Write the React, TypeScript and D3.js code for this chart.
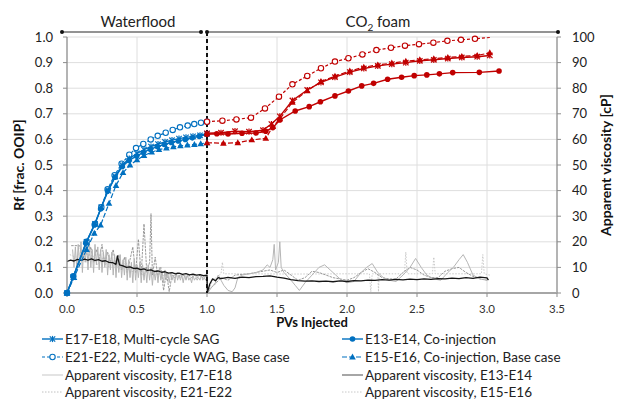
import React from 'react';
import * as d3 from 'd3';

const W = 617, H = 402;
const BLUE = '#0070C0';
const RED = '#C00000';
const FONT = 'Lato, "Open Sans", sans-serif';

const xTicks = [0, 0.5, 1.0, 1.5, 2.0, 2.5, 3.0, 3.5];
const yTicks = [0, 0.1, 0.2, 0.3, 0.4, 0.5, 0.6, 0.7, 0.8, 0.9, 1.0];
const yRTicks = [0, 10, 20, 30, 40, 50, 60, 70, 80, 90, 100];

// ---- Recovery factor, waterflood (blue) ----
const rfE17WX = [0, 0.045, 0.14, 0.2, 0.245, 0.295, 0.345, 0.395, 0.445, 0.5, 0.55, 0.6, 0.65, 0.7, 0.75, 0.8, 0.85, 0.9, 0.95, 1.0];
const rfE17WY = [0, 0.062, 0.2, 0.27, 0.335, 0.4, 0.455, 0.5, 0.525, 0.545, 0.56, 0.572, 0.582, 0.59, 0.597, 0.603, 0.608, 0.612, 0.616, 0.622];
const rfE13WX = [0, 0.045, 0.134, 0.195, 0.24, 0.29, 0.343, 0.395, 0.443, 0.497, 0.545, 0.595, 0.645, 0.695, 0.745, 0.795, 0.845, 0.895, 0.945, 1.0];
const rfE13WY = [0, 0.064, 0.194, 0.266, 0.328, 0.398, 0.452, 0.494, 0.518, 0.535, 0.549, 0.562, 0.572, 0.58, 0.588, 0.594, 0.6, 0.606, 0.612, 0.62];
const rfE21WX = [0, 0.045, 0.14, 0.2, 0.245, 0.29, 0.34, 0.39, 0.445, 0.493, 0.545, 0.598, 0.648, 0.705, 0.755, 0.807, 0.862, 0.909, 0.957, 1.0];
const rfE21WY = [0, 0.065, 0.2, 0.27, 0.335, 0.405, 0.46, 0.505, 0.54, 0.566, 0.582, 0.6, 0.614, 0.626, 0.637, 0.647, 0.654, 0.66, 0.665, 0.669];
const rfE15WX = [0, 0.05, 0.14, 0.195, 0.24, 0.3, 0.35, 0.4, 0.45, 0.5, 0.55, 0.605, 0.657, 0.71, 0.76, 0.81, 0.86, 0.91, 0.955, 1.0];
const rfE15WY = [0, 0.06, 0.17, 0.233, 0.265, 0.35, 0.42, 0.47, 0.5, 0.52, 0.537, 0.55, 0.56, 0.566, 0.571, 0.575, 0.578, 0.58, 0.583, 0.587];

// ---- Recovery factor, CO2 foam (red) ----
const rfE17CX = [1.0, 1.1, 1.2, 1.3, 1.4, 1.46, 1.52, 1.61, 1.716, 1.814, 1.914, 2.02, 2.12, 2.22, 2.32, 2.42, 2.52, 2.62, 2.72, 2.82, 2.93, 3.02];
const rfE17CY = [0.624, 0.626, 0.632, 0.63, 0.636, 0.66, 0.69, 0.752, 0.793, 0.823, 0.843, 0.863, 0.877, 0.887, 0.894, 0.9, 0.907, 0.911, 0.916, 0.92, 0.923, 0.928];
const rfE13CX = [1.0, 1.07, 1.15, 1.25, 1.35, 1.42, 1.47, 1.52, 1.63, 1.73, 1.81, 1.914, 2.01, 2.105, 2.19, 2.29, 2.39, 2.48, 2.57, 2.66, 2.755, 2.945, 3.086];
const rfE13CY = [0.62, 0.622, 0.621, 0.624, 0.625, 0.632, 0.646, 0.676, 0.711, 0.728, 0.747, 0.77, 0.789, 0.809, 0.819, 0.835, 0.843, 0.849, 0.852, 0.856, 0.861, 0.862, 0.867];
const rfE21CX = [1.0, 1.11, 1.21, 1.314, 1.414, 1.514, 1.61, 1.716, 1.814, 1.914, 2.01, 2.11, 2.21, 2.314, 2.414, 2.514, 2.617, 2.717, 2.814, 2.914, 3.02];
const rfE21CY = [0.669, 0.673, 0.678, 0.685, 0.721, 0.767, 0.815, 0.848, 0.878, 0.904, 0.917, 0.932, 0.949, 0.958, 0.966, 0.972, 0.978, 0.985, 0.989, 0.993, 0.998];
const rfE15CX = [1.0, 1.117, 1.22, 1.32, 1.42, 1.47, 1.52, 1.61, 1.716, 1.814, 1.914, 2.02, 2.12, 2.22, 2.32, 2.42, 2.52, 2.62, 2.72, 2.82, 2.93, 3.02];
const rfE15CY = [0.587, 0.585, 0.587, 0.598, 0.604, 0.65, 0.68, 0.745, 0.79, 0.826, 0.847, 0.867, 0.882, 0.891, 0.898, 0.905, 0.911, 0.915, 0.92, 0.924, 0.928, 0.938];

// ---- Apparent viscosity [cP] ----
const visE17X = [
  0.04, 0.05, 0.06, 0.07, 0.08, 0.09, 0.10, 0.11, 0.12, 0.13,
  0.14, 0.15, 0.16, 0.17, 0.18, 0.19, 0.20, 0.21, 0.22, 0.23,
  0.24, 0.25, 0.26, 0.27, 0.28, 0.29, 0.30, 0.31, 0.32, 0.33,
  0.34, 0.35, 0.36, 0.37, 0.38, 0.39, 0.40, 0.41, 0.42, 0.43,
  0.44, 0.45, 0.46, 0.47, 0.48, 0.49, 0.50, 0.51, 0.52, 0.53,
  0.54, 0.55, 0.56, 0.57, 0.58, 0.59, 0.60, 0.61, 0.62, 0.63,
  0.64, 0.65, 0.66, 0.67, 0.68, 0.69, 0.70, 0.71, 0.72, 0.73,
  0.74, 0.75, 0.76, 0.77, 0.78, 0.79, 0.80, 0.81, 0.82, 0.83,
  0.84, 0.85, 0.86, 0.87, 0.88, 0.89, 0.90, 0.91, 0.92, 0.93,
  0.94, 0.95, 0.96, 0.97, 0.98, 0.99, 1.00,
  1.005, 1.03, 1.06, 1.08, 1.1, 1.12, 1.15, 1.18, 1.2, 1.22, 1.25, 1.3, 1.35, 1.4, 1.43, 1.45, 1.47, 1.48, 1.49, 1.51, 1.52, 1.53, 1.55, 1.6, 1.63, 1.66, 1.7, 1.75, 1.8, 1.84, 1.88, 1.92, 1.96, 2.0, 2.05, 2.1, 2.14, 2.18, 2.22, 2.26, 2.3, 2.35, 2.4, 2.45, 2.49, 2.53, 2.57, 2.62, 2.67, 2.72, 2.76, 2.8, 2.83, 2.86, 2.9, 2.95, 3.0];
const visE17Y = [
  17, 10, 18, 9, 19, 11, 20, 8, 18, 12,
  19, 9, 20, 10, 17, 8, 19, 11, 18, 9,
  17, 8, 16, 10, 17, 7, 15, 9, 16, 7,
  15, 6, 14, 8, 15, 6, 13, 7, 14, 5,
  13, 6, 12, 4, 13, 5, 11, 6, 12, 4,
  11, 5, 10, 4, 11, 5, 10, 3, 9, 5,
  9, 4, 10, 5, 8, 4, 9, 5, 8, 4,
  8, 5, 7, 4, 8, 5, 7, 5, 7, 4,
  7, 5, 7, 5, 6, 4, 7, 5, 6, 5,
  6, 5, 7, 5, 6, 5, 6,
  0, 2, 4, 7, 5, 3, 1, 0.5, 2, 6, 7, 7.5, 8, 9, 11, 10, 13, 19, 9, 12, 20, 10, 8, 5, 3, 1, 4, 7, 10, 11, 9, 7, 5, 4, 4.5, 8, 10, 11.5, 8, 6, 5, 4.5, 7, 10, 13.5, 10, 7, 5.5, 5, 8, 10, 13, 15, 12, 7, 5.5, 5];

const visE13X = [0, 0.025, 0.05, 0.075, 0.1, 0.125, 0.15, 0.175, 0.2, 0.225, 0.25, 0.275, 0.3, 0.325, 0.35, 0.36, 0.375, 0.4, 0.425, 0.45, 0.475, 0.5, 0.525, 0.55, 0.575, 0.6, 0.625, 0.65, 0.675, 0.7, 0.725, 0.75, 0.775, 0.8, 0.825, 0.85, 0.875, 0.9, 0.925, 0.95, 0.975, 1.0,
  1.003, 1.02, 1.04, 1.06, 1.08, 1.1, 1.15, 1.2, 1.25, 1.3, 1.35, 1.4, 1.45, 1.5, 1.55, 1.6, 1.65, 1.7, 1.75, 1.8, 1.85, 1.9, 1.95, 2.0, 2.05, 2.1, 2.15, 2.2, 2.25, 2.3, 2.35, 2.4, 2.45, 2.5, 2.55, 2.6, 2.65, 2.7, 2.75, 2.8, 2.85, 2.9, 2.95, 3.0, 3.01];
const visE13Y = [12.3, 12.8, 12.5, 13.1, 12.7, 13.2, 12.8, 13.3, 12.7, 13.0, 12.4, 12.6, 12.0, 11.9, 11.2, 14.5, 11.0, 10.6, 10.0, 10.2, 9.6, 9.7, 9.1, 9.4, 8.8, 9.0, 8.4, 8.6, 8.1, 8.3, 7.8, 8.0, 7.5, 7.8, 7.3, 7.6, 7.1, 7.4, 7.0, 7.2, 6.8, 7.0,
  0.3, 3.5, 5.5, 4.8, 6.0, 5.6, 6.1, 5.7, 6.2, 6.0, 6.4, 6.5, 6.7, 6.2, 5.8, 5.2, 4.8, 4.6, 4.7, 4.5, 4.6, 4.4, 4.7, 4.5, 4.8, 4.7, 5.0, 4.9, 5.2, 5.0, 5.3, 5.1, 5.4, 5.2, 5.5, 5.3, 5.6, 5.5, 5.8, 5.6, 6.0, 5.7, 6.2, 5.9, 5.0];

const visE21X = [0.03, 0.09, 0.11, 0.13, 0.15, 0.17, 0.19, 0.21, 0.23, 0.25, 0.27, 0.29, 0.31, 0.33, 0.35, 0.37, 0.39, 0.41, 0.43, 0.45, 0.47, 0.49, 0.51, 0.53, 0.55, 0.57, 0.59, 0.6, 0.61, 0.63, 0.65, 0.67, 0.69, 0.71, 0.73, 0.75, 0.77, 0.79, 0.81, 0.83, 0.85, 0.87, 0.89, 0.91, 0.93, 0.95, 0.97, 0.995,
  1.005, 1.05, 1.1, 1.15, 1.2, 1.3, 1.4, 1.45, 1.5, 1.55, 1.6, 1.65, 1.7, 1.75, 1.8, 1.85, 1.9, 1.95, 2.0, 2.05, 2.1, 2.15, 2.2, 2.25, 2.3, 2.35, 2.4, 2.45, 2.5, 2.55, 2.6, 2.65, 2.7, 2.75, 2.8, 2.85, 2.9, 2.95, 3.0];
const visE21Y = [18.5, 18.5, 14, 19, 13, 18, 12, 17, 13, 19, 11, 16, 12, 17, 10, 15, 9, 14, 8, 13, 18, 8, 21, 7, 27, 8, 12, 31, 7, 14, 6, 10, 1, 8, 0.5, 7, 6, 8, 6, 7, 6, 7, 6, 7, 6, 7, 6, 6.5,
  1, 3, 6, 5, 7, 7.5, 8.5, 9, 8, 9, 7, 5, 6, 8.5, 8, 7, 6, 5.5, 5, 6, 8, 9.5, 8, 6, 5.5, 5.5, 8, 10, 9, 7, 6, 6, 8.5, 9.5, 10, 8, 6.5, 5.5, 5];

const visE15X = [0.02, 0.06, 0.1, 0.14, 0.18, 0.22, 0.26, 0.3, 0.34, 0.38, 0.42, 0.46, 0.5, 0.54, 0.58, 0.62, 0.66, 0.7, 0.74, 0.78, 0.82, 0.86, 0.9, 0.94, 0.995,
  1.005, 1.04, 1.1, 1.11, 1.12, 1.3, 1.6, 2.0, 2.16, 2.17, 2.18, 2.22, 2.225, 2.23, 2.41, 2.42, 2.43, 2.61, 2.62, 2.63, 2.96, 2.97, 2.98, 3.02];
const visE15Y = [15, 14, 16, 12, 15, 11, 14, 10, 13, 9, 12, 8, 10, 7, 9, 7, 8, 6.5, 7.5, 6.5, 7, 6.5, 7, 6.5, 6.5,
  0, 5, 7.5, 12, 7.5, 7.5, 7.4, 7.5, 7.5, 0.5, 7.5, 7.5, 0.5, 7.5, 7.5, 16, 7.5, 7.5, 14, 7.5, 7.5, 15, 7.5, 7];

const legendLabels = [
  'E17-E18, Multi-cycle SAG', 'E13-E14, Co-injection',
  'E21-E22, Multi-cycle WAG, Base case', 'E15-E16, Co-injection, Base case',
  'Apparent viscosity, E17-E18', 'Apparent viscosity, E13-E14',
  'Apparent viscosity, E21-E22', 'Apparent viscosity, E15-E16',
];

type Mk = 'star' | 'dot' | 'open' | 'tri';

const x = d3.scaleLinear().domain([0, 3.5]).range([67, 557]);
const y = d3.scaleLinear().domain([0, 1]).range([293, 37]);
const yR = d3.scaleLinear().domain([0, 100]).range([293, 37]);

function Marker({ t, cx, cy, c }: { t: Mk; cx: number; cy: number; c: string }) {
  if (t === 'dot') return <circle cx={cx} cy={cy} r={2.8} fill={c} />;
  if (t === 'open') return <circle cx={cx} cy={cy} r={2.7} fill="#fff" stroke={c} strokeWidth={1.1} />;
  if (t === 'tri') return <path d={`M${cx},${cy - 3.5}L${cx + 3.3},${cy + 2.4}L${cx - 3.3},${cy + 2.4}Z`} fill={c} />;
  const s = 2.7;
  return (
    <g stroke={c} strokeWidth={1.2}>
      <line x1={cx - s} y1={cy - s} x2={cx + s} y2={cy + s} />
      <line x1={cx - s} y1={cy + s} x2={cx + s} y2={cy - s} />
      <line x1={cx} y1={cy - s - 0.4} x2={cx} y2={cy + s + 0.4} />
    </g>
  );
}

const rfSeries = [
  { xs: rfE15WX, ys: rfE15WY, c: BLUE, m: 'tri' as Mk, dash: '5,2' },
  { xs: rfE21WX, ys: rfE21WY, c: BLUE, m: 'open' as Mk, dash: '3,2' },
  { xs: rfE13WX, ys: rfE13WY, c: BLUE, m: 'dot' as Mk, dash: '' },
  { xs: rfE17WX, ys: rfE17WY, c: BLUE, m: 'star' as Mk, dash: '' },
  { xs: rfE15CX, ys: rfE15CY, c: RED, m: 'tri' as Mk, dash: '5,2' },
  { xs: rfE21CX, ys: rfE21CY, c: RED, m: 'open' as Mk, dash: '3,2', skipLast: true },
  { xs: rfE13CX, ys: rfE13CY, c: RED, m: 'dot' as Mk, dash: '' },
  { xs: rfE17CX, ys: rfE17CY, c: RED, m: 'star' as Mk, dash: '' },
];

const visSeries = [
  { xs: visE15X, ys: visE15Y, c: '#c4c4c4', w: 0.9, dash: '1.5,1.5' },
  { xs: visE21X, ys: visE21Y, c: '#8f8f8f', w: 0.9, dash: '2.5,1' },
  { xs: visE17X, ys: visE17Y, c: '#b5b5b5', w: 1, dash: '' },
  { xs: visE13X, ys: visE13Y, c: '#151515', w: 1.3, dash: '' },
];

export default function App() {
  const line = d3.line<[number, number]>().x(d => d[0]).y(d => d[1]);
  const rfPath = (xs: number[], ys: number[]) => line(xs.map((v, i) => [x(v), y(ys[i])]))!;
  const visPath = (xs: number[], ys: number[]) => line(xs.map((v, i) => [x(v), yR(ys[i])]))!;

  const legendRows = [339, 357, 375, 392];
  const legendCols = [{ sx: 42, tx: 65 }, { sx: 342, tx: 365 }];
  const legendStyles = [
    { c: BLUE, dash: '', m: 'star' as Mk | null, w: 1.4 },
    { c: BLUE, dash: '', m: 'dot' as Mk | null, w: 1.4 },
    { c: BLUE, dash: '3,2', m: 'open' as Mk | null, w: 1.2 },
    { c: BLUE, dash: '5,2', m: 'tri' as Mk | null, w: 1.2 },
    { c: '#d0d0d0', dash: '', m: null, w: 1.2 },
    { c: '#808080', dash: '', m: null, w: 1.4 },
    { c: '#c0c0c0', dash: '1.5,1.5', m: null, w: 1 },
    { c: '#c8c8c8', dash: '1.5,1.5', m: null, w: 1 },
  ];

  return (
    <svg width={W} height={H} style={{ position: 'absolute', left: 0, top: 0, background: '#fff' }} fontFamily={FONT}>
      <rect width={W} height={H} fill="#fff" />
      {/* grid */}
      {yTicks.filter(t => t > 0).map(t => (
        <line key={'gy' + t} x1={x(0)} x2={x(3.5)} y1={y(t)} y2={y(t)} stroke="#dedede" strokeWidth={1} />
      ))}
      {xTicks.filter(t => t > 0 && t < 3.5).map(t => (
        <line key={'gx' + t} x1={x(t)} x2={x(t)} y1={y(0)} y2={y(1)} stroke="#dedede" strokeWidth={1} />
      ))}

      {/* viscosity traces */}
      {visSeries.map((s, i) => (
        <path key={'v' + i} d={visPath(s.xs, s.ys)} fill="none" stroke={s.c} strokeWidth={s.w}
          strokeDasharray={s.dash || undefined} strokeLinejoin="round" />
      ))}

      {/* axes */}
      <line x1={x(0)} x2={x(0)} y1={y(0)} y2={y(1)} stroke="#8c8c8c" strokeWidth={1.3} />
      <line x1={x(3.5)} x2={x(3.5)} y1={y(0)} y2={y(1)} stroke="#8c8c8c" strokeWidth={1.3} />
      <line x1={x(0)} x2={x(3.5)} y1={y(0)} y2={y(0)} stroke="#a6a6a6" strokeWidth={2} />
      {yTicks.map(t => (
        <line key={'ty' + t} x1={x(0) - 4} x2={x(0)} y1={y(t)} y2={y(t)} stroke="#8c8c8c" strokeWidth={1} />
      ))}
      {yRTicks.map(t => (
        <line key={'tyr' + t} x1={x(3.5)} x2={x(3.5) + 4} y1={yR(t)} y2={yR(t)} stroke="#8c8c8c" strokeWidth={1} />
      ))}
      {xTicks.map(t => (
        <line key={'tx' + t} x1={x(t)} x2={x(t)} y1={y(0)} y2={y(0) + 4} stroke="#8c8c8c" strokeWidth={1} />
      ))}

      {/* phase bar */}
      <line x1={62} x2={201} y1={32} y2={32} stroke="#6f6f6f" strokeWidth={1.5} />
      <line x1={207} x2={558} y1={32} y2={32} stroke="#6f6f6f" strokeWidth={1.5} />
      {[62, 201, 207, 558].map(px => <circle key={'pd' + px} cx={px} cy={32} r={2} fill="#111" />)}
      <text x={138} y={27} fontSize={15} textAnchor="middle" fill="#222">Waterflood</text>
      <text x={378} y={27} fontSize={15} textAnchor="middle" fill="#222">CO<tspan fontSize={10} dy={4}>2</tspan><tspan dy={-4}> foam</tspan></text>

      {/* separator */}
      <line x1={x(1)} x2={x(1)} y1={32} y2={y(0)} stroke="#111" strokeWidth={2} strokeDasharray="4,3" />

      {/* Rf series */}
      {rfSeries.map((s, i) => (
        <g key={'rf' + i}>
          <path d={rfPath(s.xs, s.ys)} fill="none" stroke={s.c} strokeWidth={s.dash ? 1.2 : 1.4}
            strokeDasharray={s.dash || undefined} />
          {s.xs.map((v, j) => ((s as any).skipLast && j === s.xs.length - 1) ? null : (
            <Marker key={j} t={s.m} cx={x(v)} cy={y(s.ys[j])} c={s.c} />
          ))}
        </g>
      ))}

      {/* tick labels */}
      {yTicks.map(t => (
        <text key={'ly' + t} x={53} y={y(t) + 4.5} fontSize={13} textAnchor="end" fill="#222">{t.toFixed(1)}</text>
      ))}
      {yRTicks.map(t => (
        <text key={'lyr' + t} x={572} y={yR(t) + 4.5} fontSize={13} textAnchor="start" fill="#222">{t}</text>
      ))}
      {xTicks.map(t => (
        <text key={'lx' + t} x={x(t)} y={313} fontSize={11.5} textAnchor="middle" fill="#333">{t.toFixed(1)}</text>
      ))}

      {/* axis titles */}
      <text x={312} y={327} fontSize={13} fontWeight="bold" textAnchor="middle" fill="#111">PVs Injected</text>
      <text transform="translate(24,165) rotate(-90)" fontSize={14} fontWeight="bold" textAnchor="middle" fill="#111">Rf [frac. OOIP]</text>
      <text transform="translate(611,165) rotate(-90)" fontSize={14} fontWeight="bold" textAnchor="middle" fill="#111">Apparent viscosity [cP]</text>

      {/* legend */}
      {legendLabels.map((lab, i) => {
        const row = legendRows[Math.floor(i / 2)];
        const col = legendCols[i % 2];
        const st = legendStyles[i];
        return (
          <g key={'lg' + i}>
            <line x1={col.sx} x2={col.sx + 21} y1={row} y2={row} stroke={st.c} strokeWidth={st.w}
              strokeDasharray={st.dash || undefined} />
            {st.m && <Marker t={st.m} cx={col.sx + 10.5} cy={row} c={st.c} />}
            <text x={col.tx} y={row + 4.5} fontSize={13.5} fill="#222">{lab}</text>
          </g>
        );
      })}
    </svg>
  );
}
